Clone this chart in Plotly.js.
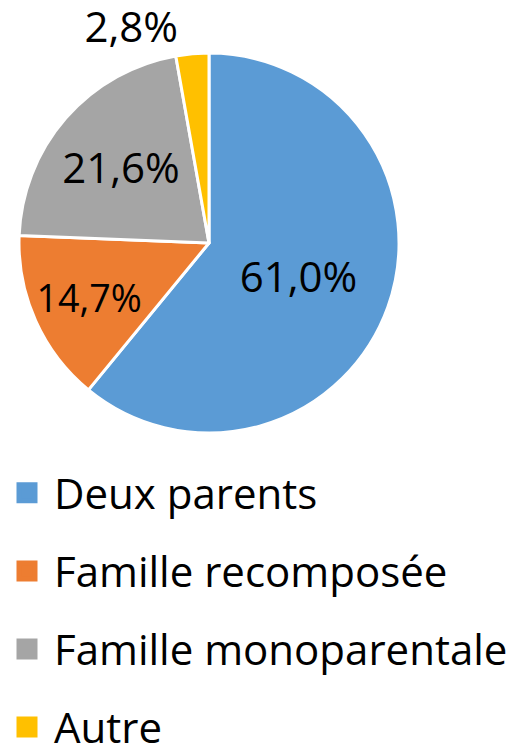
<!DOCTYPE html>
<html>
<head>
<meta charset="utf-8">
<script src="https://cdn.plot.ly/plotly-3.0.1.min.js"></script>
<style>html,body{margin:0;padding:0;background:#fff;}#chart{width:513px;height:744px;}</style>
</head>
<body>
<div id="chart"></div>
<script>
const categories = ["Deux parents", "Famille recomposée", "Famille monoparentale", "Autre"];
const values = [61.0, 14.7, 21.6, 2.8];
const valueLabels = ["61,0%", "14,7%", "21,6%", "2,8%"];
const colors = ["#5B9BD5", "#ED7D31", "#A5A5A5", "#FFC000"];

const FONT = "Open Sans, sans-serif";

const pie = {
  type: "pie",
  labels: categories,
  values: values,
  text: valueLabels,
  textinfo: "text",
  sort: false,
  direction: "clockwise",
  rotation: 0,
  marker: {colors: colors, line: {color: "#ffffff", width: 3}},
  textposition: ["inside", "inside", "inside", "outside"],
  insidetextorientation: "horizontal",
  textfont: {family: FONT, size: 42, color: "#000000"},
  outsidetextfont: {family: FONT, size: 42, color: "#000000"},
  domain: {x: [19/513, 399/513], y: [1 - 433/744, 1 - 53/744]},
  showlegend: false,
  hoverinfo: "label+text"
};

const legendTraces = categories.map((c, i) => ({
  type: "scatter",
  mode: "markers",
  x: [null], y: [null],
  name: c,
  legendgroup: "g" + i,
  marker: {symbol: "square", size: 16, color: colors[i], line: {color: colors[i], width: 5}},
  hoverinfo: "skip"
}));

const layout = {
  width: 513, height: 744,
  margin: {l: 0, r: 0, t: 0, b: 0, autoexpand: false},
  paper_bgcolor: "#ffffff",
  plot_bgcolor: "#ffffff",
  showlegend: true,
  xaxis: {visible: false},
  yaxis: {visible: false},
  legend: {
    x: 0, y: 1 - 459/744, xanchor: "left", yanchor: "top",
    orientation: "v",
    font: {family: FONT, size: 42, color: "#000000"},
    itemwidth: 44,
    tracegroupgap: 20.5,
    traceorder: "grouped",
    bgcolor: "rgba(0,0,0,0)"
  }
};

Plotly.newPlot("chart", [pie].concat(legendTraces), layout, {displayModeBar: false, staticPlot: true});
</script>
</body>
</html>
